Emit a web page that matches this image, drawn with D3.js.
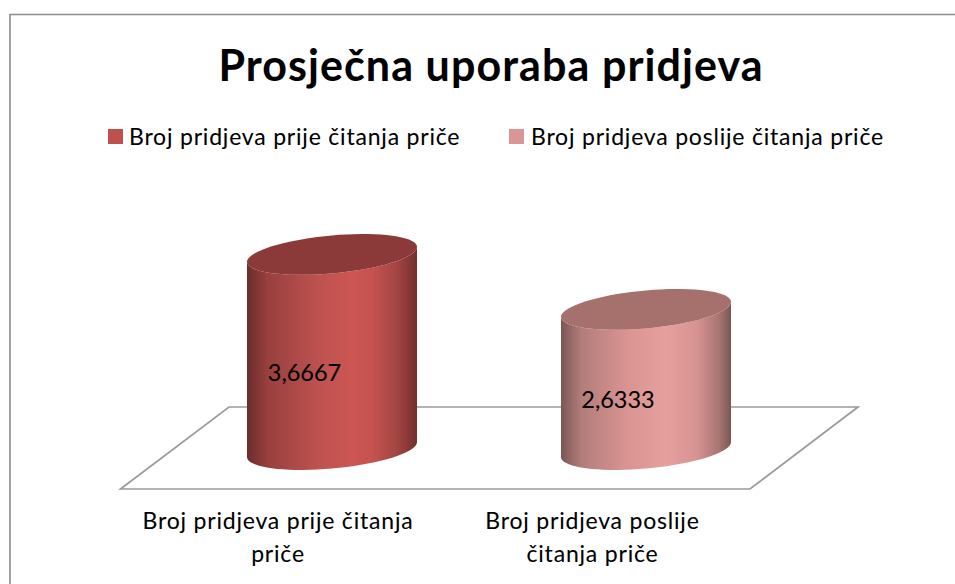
<!DOCTYPE html>
<html><head><meta charset="utf-8">
<script src="https://cdn.jsdelivr.net/npm/d3@7"></script>
<style>html,body{margin:0;padding:0;background:#fff}svg{display:block}text{font-family:Lato,"Open Sans",sans-serif;fill:#000;stroke:#000;stroke-width:.08px}</style>
</head><body><div id="c"></div>
<script>
const titleText = "Prosječna uporaba pridjeva";
const categories = ["Broj pridjeva prije čitanja priče", "Broj pridjeva poslije čitanja priče"];
const categoryLines = [["Broj pridjeva prije čitanja", "priče"], ["Broj pridjeva poslije", "čitanja priče"]];
const values = [3.6667, 2.6333];
const valueLabels = ["3,6667", "2,6333"];
const legendColors = ["#c0504d", "#d99694"];
const topColors = ["#8c3a39", "#a6706d"];
const sideStops = [
  [["#6a2c2b",0],["#98403e",.12],["#bd5250",.42],["#cd5653",.62],["#c4524f",.74],["#a44543",.88],["#732e2d",1]],
  [["#7b5654",0],["#b27d7b",.12],["#d99391",.38],["#e6a09e",.62],["#d69391",.8],["#a87472",.93],["#7b5654",1]]
];
const W = 955, H = 584;
const svg = d3.select("#c").append("svg").attr("width", W).attr("height", H);
const defs = svg.append("defs");

svg.append("path").attr("d","M10,584V14.5H955").attr("fill","none").attr("stroke","#8c8c8c").attr("stroke-width",1.6);

// scales
const x = d3.scalePoint().domain(categories).range([332, 646]);
const y = d3.scaleLinear().domain([0, 4]).range([449.5, 236.7]);
const rx = 85, sh = 7.5, ry = 19;
const ang = d3.range(0, 361, 5).map(d => d * Math.PI / 180);
const ellipsePt = (cx, cy, t) => [cx + rx * Math.cos(t), cy - sh * Math.cos(t) + ry * Math.sin(t)];
const line = d3.line();

// floor
const floorY = d3.scaleLinear().domain([0, 1]).range([489, 407]);
svg.append("path")
  .attr("d", line([[120.5,floorY(0)],[229,floorY(1)],[858,floorY(1)],[750,floorY(0)]]) + "Z")
  .attr("fill","#fff").attr("stroke","#9a9a9a").attr("stroke-width",1.7);

// cylinders
categories.forEach((c, i) => {
  const g = defs.append("linearGradient").attr("id","g"+i).attr("x1",0).attr("x2",1).attr("y1",0).attr("y2",0);
  sideStops[i].forEach(s => g.append("stop").attr("offset",s[1]).attr("stop-color",s[0]));
  const cx = x(c), yb = y(0), yt = y(values[i]);
  const lower = d3.range(0, 181, 5).map(d => d * Math.PI / 180);
  const topArc = lower.map(t => ellipsePt(cx, yt, t));
  const botArc = lower.map(t => ellipsePt(cx, yb, t)).reverse();
  svg.append("path").attr("d", line(topArc.concat(botArc)) + "Z").attr("fill", `url(#g${i})`);
  svg.append("path").attr("d", line(ang.map(t => ellipsePt(cx, yt, t))) + "Z").attr("fill", topColors[i]);
});

// value labels
const labelX = [304.5, 618], labelY = [381, 408];
valueLabels.forEach((t,i) => svg.append("text").attr("x",labelX[i]).attr("y",labelY[i]).attr("text-anchor","middle").attr("font-size",23.5).text(t));

// title
svg.append("text").attr("x",491).attr("y",81).attr("text-anchor","middle").attr("font-size",43).attr("font-weight",700).attr("letter-spacing",1.08).text(titleText);

// legend
const legendX = [108, 509], legendTextX = [129, 531];
categories.forEach((c,i) => {
  svg.append("rect").attr("x",legendX[i]).attr("y",129).attr("width",15).attr("height",15).attr("fill",legendColors[i]);
  svg.append("text").attr("x",legendTextX[i]).attr("y",145).attr("font-size",23).attr("letter-spacing",0.8).text(c);
});

// category labels
const catX = [278, 592.5];
categoryLines.forEach((ls,i) => ls.forEach((l,j) =>
  svg.append("text").attr("x",catX[i]).attr("y",529+j*33).attr("text-anchor","middle").attr("font-size",23).attr("letter-spacing",0.8).text(l)));
</script></body></html>
